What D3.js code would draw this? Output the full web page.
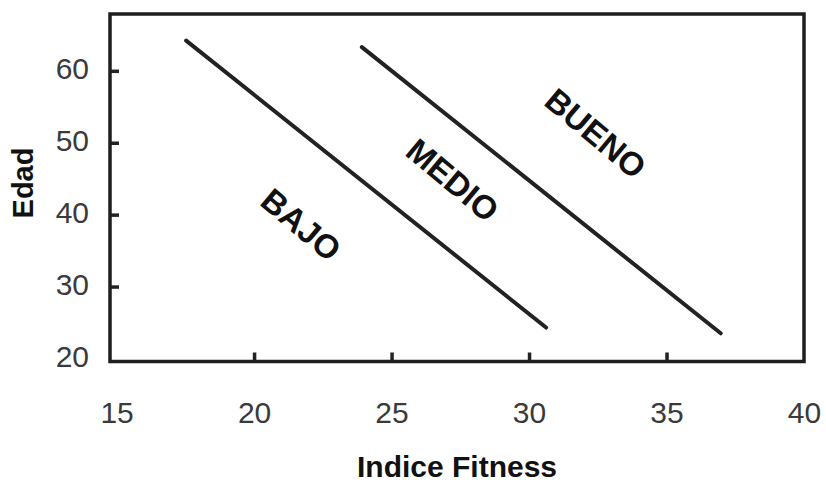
<!DOCTYPE html>
<html>
<head>
<meta charset="utf-8">
<script src="https://cdn.jsdelivr.net/npm/d3@7"></script>
<style>
  body { margin: 0; background: #fff; }
  svg { display: block; font-family: "Liberation Sans", Arial, sans-serif; }
  .tick text { fill: #3a3a3a; }
</style>
</head>
<body>
<svg id="chart" width="826" height="487"></svg>
<script>
// Boundary lines between fitness classes: [indice, edad] endpoints
var lineBajoMedio = [[17.53, 64.2], [30.62, 24.3]];
var lineMedioBueno = [[23.92, 63.3], [36.97, 23.5]];

// Region labels and where they sit
var zoneNames = ["BAJO", "MEDIO", "BUENO"];
var zoneX = [21.71, 27.22, 32.42];
var zoneY = [38.6, 44.8, 51.3];

// Tick labels
var xTicks = [15, 20, 25, 30, 35, 40];
var yTicks = [20, 30, 40, 50, 60];

var svg = d3.select("#chart");

// Frame limits (the plot box starts a little left of 15 and under 20)
var xDomain = [14.76, 40];
var yDomain = [19.58, 67.9];

var x = d3.scaleLinear().domain(xDomain).range([110, 804]);
var y = d3.scaleLinear().domain(yDomain).range([361.5, 14]);

// x axis with inward ticks
var xAxis = svg.append("g")
  .attr("transform", "translate(0," + y(yDomain[0]) + ")")
  .call(d3.axisBottom(x).tickValues(xTicks).tickSizeInner(-9).tickSizeOuter(0).tickPadding(40));
xAxis.select(".domain").remove();
xAxis.selectAll(".tick line")
  .attr("stroke", "#222").attr("stroke-width", 3.5)
  .filter(function(d) { return d == 15 || d == 40; }).remove();
xAxis.selectAll(".tick text").attr("font-size", 30);

// y axis
var yAxis = svg.append("g")
  .attr("transform", "translate(" + x(xDomain[0]) + ",0)")
  .call(d3.axisLeft(y).tickValues(yTicks).tickSizeInner(-9).tickSizeOuter(0).tickPadding(21));
yAxis.select(".domain").remove();
yAxis.selectAll(".tick line")
  .attr("stroke", "#222").attr("stroke-width", 3.5)
  .filter(function(d) { return d == 20; }).remove();
yAxis.selectAll(".tick text").attr("font-size", 30).attr("dy", "0.26em");

// Plot frame
svg.append("rect")
  .attr("x", x(xDomain[0]))
  .attr("y", y(yDomain[1]))
  .attr("width", x(xDomain[1]) - x(xDomain[0]))
  .attr("height", y(yDomain[0]) - y(yDomain[1]))
  .attr("fill", "none")
  .attr("stroke", "#1e1e1e")
  .attr("stroke-width", 3.5);

// Class boundary lines
var line = d3.line()
  .x(function(d) { return x(d[0]); })
  .y(function(d) { return y(d[1]); });

svg.selectAll(".boundary")
  .data([lineBajoMedio, lineMedioBueno])
  .enter().append("path")
  .attr("class", "boundary")
  .attr("d", line)
  .attr("fill", "none")
  .attr("stroke", "#222")
  .attr("stroke-width", 4)
  .attr("stroke-linecap", "round");

// Region labels, rotated along the lines
svg.selectAll(".zone")
  .data(zoneNames)
  .enter().append("text")
  .attr("class", "zone")
  .attr("transform", function(d, i) {
    return "translate(" + x(zoneX[i]) + "," + y(zoneY[i]) + ") rotate(40)";
  })
  .attr("text-anchor", "middle")
  .attr("dominant-baseline", "central")
  .attr("font-size", 33)
  .attr("font-weight", "bold")
  .attr("fill", "#111")
  .text(function(d) { return d; });

// Axis titles
svg.append("text")
  .attr("x", (x(xDomain[0]) + x(xDomain[1])) / 2)
  .attr("y", 477)
  .attr("text-anchor", "middle")
  .attr("font-size", 30)
  .attr("font-weight", "bold")
  .attr("fill", "#111")
  .text("Indice Fitness");

svg.append("text")
  .attr("transform", "translate(33,183) rotate(-90)")
  .attr("text-anchor", "middle")
  .attr("font-size", 29)
  .attr("font-weight", "bold")
  .attr("fill", "#111")
  .text("Edad");
</script>
</body>
</html>
